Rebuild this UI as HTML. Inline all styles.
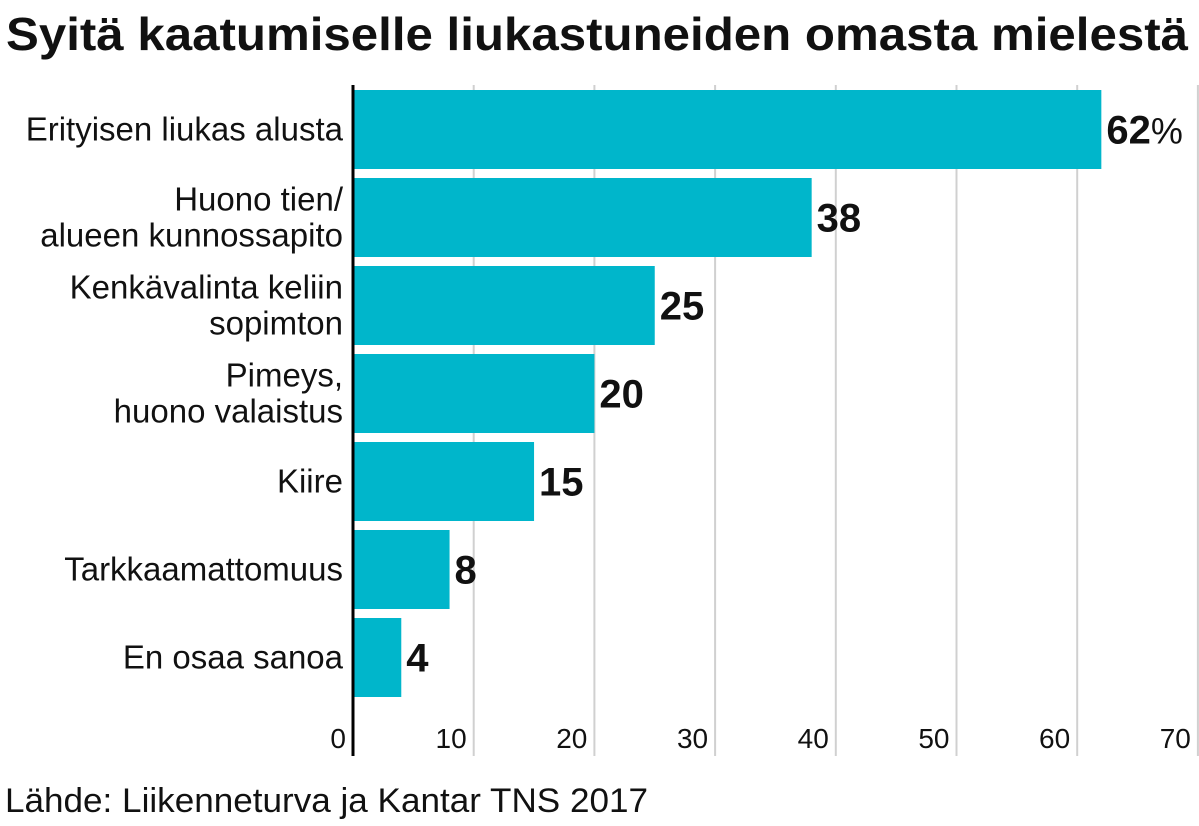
<!DOCTYPE html>
<html><head><meta charset="utf-8"><style>
html,body{margin:0;padding:0;background:#fff}
svg{display:block}
text{font-family:"Liberation Sans Narrow","Liberation Sans",sans-serif}
</style></head><body>
<svg id="chart" width="1199" height="826" viewBox="0 0 1199 826">
<text x="6" y="50" font-size="46" font-weight="bold" fill="#111" textLength="1182" lengthAdjust="spacingAndGlyphs">Syitä kaatumiselle liukastuneiden omasta mielestä</text>
<g id="grid"></g>
<g id="bars"></g>
<g id="labels"></g>
<line x1="353" y1="85" x2="353" y2="756" stroke="#000" stroke-width="3"/>
<g id="ticks"></g>
<text x="5" y="812" font-size="34" fill="#111" textLength="643" lengthAdjust="spacingAndGlyphs">Lähde: Liikenneturva ja Kantar TNS 2017</text>
</svg>
<script>
const categories=[["Erityisen liukas alusta"],["Huono tien/","alueen kunnossapito"],["Kenkävalinta keliin","sopimton"],["Pimeys,","huono valaistus"],["Kiire"],["Tarkkaamattomuus"],["En osaa sanoa"]];
const values=[62,38,25,20,15,8,4];
const valueLabels=["62","38","25","20","15","8","4"];
const tickValues=[0,10,20,30,40,50,60,70];
const NS="http://www.w3.org/2000/svg";
const x0=353,scale=12.07;
const xs=v=>x0+v*scale;
const bandTop=i=>90+i*88;
const bandH=79;
function mk(tag,attrs,parent){const e=document.createElementNS(NS,tag);for(const k in attrs)e.setAttribute(k,attrs[k]);parent.appendChild(e);return e;}
const grid=document.getElementById('grid'),bars=document.getElementById('bars'),labels=document.getElementById('labels'),ticks=document.getElementById('ticks');
tickValues.forEach(t=>{
  if(t>0){const l=mk('line',{x1:xs(t),x2:xs(t),y1:85,y2:756,stroke:'#d0d0d0','stroke-width':2},grid);
  
  }
  const tx=mk('text',{x:xs(t)-7,y:748,'text-anchor':'end','font-size':28,fill:'#111'},ticks);
  tx.textContent=t;
  
  
});
values.forEach((v,i)=>{
  const y=bandTop(i);
  const r=mk('rect',{x:x0,y:y,width:xs(v)-x0,height:bandH,fill:'#00b6cb'},bars);
  
  
  const vt=mk('text',{x:xs(v)+5,y:y+bandH/2+14,'font-size':40,'font-weight':'bold',fill:'#111'},labels);
  vt.textContent=valueLabels[i];
  if(i===0){const p=mk('tspan',{'font-weight':'normal','font-size':36},vt);p.textContent='%';}
  
  
  const lines=categories[i];
  lines.forEach((ln,j)=>{
    const cy=y+bandH/2+11+(j-(lines.length-1)/2)*36;
    const ct=mk('text',{x:343,y:cy,'text-anchor':'end','font-size':33,fill:'#111'},labels);
    ct.textContent=ln;
    
    
  });
});
</script>
</body></html>
